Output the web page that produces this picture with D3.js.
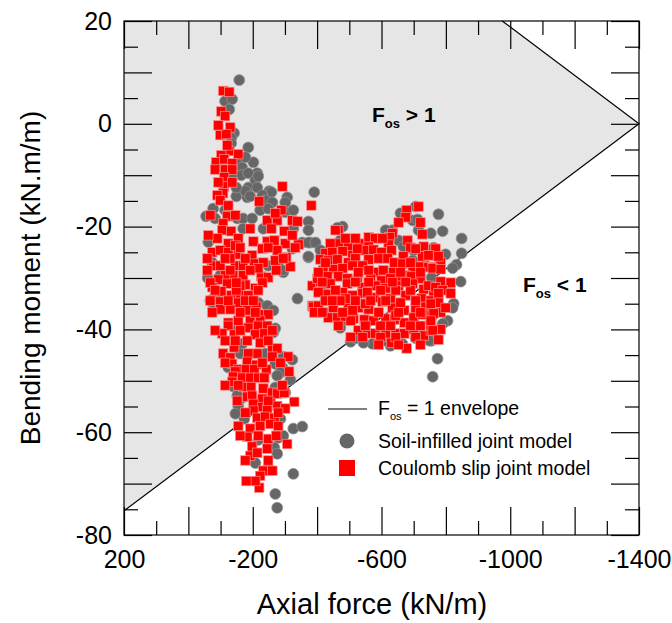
<!DOCTYPE html>
<html>
<head>
<meta charset="utf-8">
<script src="https://cdn.jsdelivr.net/npm/d3@7"></script>
<style>
  body { margin: 0; background: #fff; }
  svg text { font-family: "Liberation Sans", Arial, sans-serif; fill: #000; }
</style>
</head>
<body>
<div id="chart"></div>
<script>
// axial force N (kN/m), bending moment M (kN.m/m)
const soilInfilled = [
  [-158, 8.5], [-114, 4.4], [-136, 4.8], [-127, 2.8], [-142, -1.8], [-133, -2.8], [-133, -3.8],
  [-186, -4.6], [-152, -7.5], [-202, -7.5], [-177, -6.5], [-167, -8.5], [-214, -9.6], [-164, -10.0],
  [-186, -9.6], [-208, -11.0], [-217, -10.2], [-136, -10.6], [-186, -12.4], [-214, -12.4], [-251, -13.1],
  [-258, -13.3], [-391, -13.3], [-149, -14.1], [-183, -14.3], [-307, -14.3], [-177, -13.1], [-230, -13.9],
  [-149, -12.4], [-192, -14.1], [-239, -14.9],
  [-261, -15.3], [-301, -15.3], [-77, -16.5], [-83, -18.4], [-114, -16.8], [-152, -18.4], [-170, -18.4],
  [-198, -18.4], [-301, -17.2], [-326, -16.8], [-373, -19.0], [-223, -16.8], [-248, -16.5], [-170, -20.4],
  [-326, -20.4], [-373, -20.7], [-233, -20.4], [-354, -23.1], [-379, -23.1], [-323, -24.3], [-373, -26.0],
  [-74, -27.0], [-248, -27.6], [-279, -27.6], [-295, -28.9], [-292, -28.5], [-99, -29.5], [-83, -33.6],
  [-339, -34.0], [-217, -34.8], [-245, -35.4], [-264, -36.3], [-77, -35.0], [-68, -34.4], [-80, -36.3],
  [-373, -23.1], [-395, -23.1], [-373, -25.8], [-410, -24.6], [-55, -18.0], [-62, -23.0], [-60, -30.0],
  [-155, -39.7], [-270, -39.8], [-264, -40.6], [-167, -42.8], [-239, -44.7], [-295, -45.3], [-323, -45.9],
  [-161, -44.7], [-270, -46.7], [-292, -47.4], [-286, -48.4], [-276, -49.0], [-317, -49.8], [-146, -51.3],
  [-270, -51.3], [-301, -52.3], [-167, -53.3], [-155, -54.9], [-146, -56.4], [-174, -57.4], [-286, -57.4],
  [-326, -59.3], [-354, -58.9], [-217, -61.5], [-279, -61.1], [-295, -60.7], [-267, -63.0], [-276, -64.2],
  [-248, -66.9], [-326, -68.1], [-270, -72.0], [-276, -74.7], [-208, -66.0], [-124, -47.4], [-136, -51.0],
  [-152, -52.9],
  [-479, -20.0], [-463, -20.2], [-706, -16.1], [-659, -17.4], [-697, -18.8], [-712, -18.6], [-634, -20.7],
  [-715, -20.7], [-753, -21.3], [-613, -20.7], [-653, -22.7], [-668, -23.9], [-700, -24.6], [-762, -24.1],
  [-737, -27.6], [-697, -26.6], [-410, -31.5], [-426, -33.0], [-479, -38.3], [-753, -38.7], [-572, -42.8],
  [-544, -42.6], [-504, -42.4], [-665, -42.8], [-756, -42.2], [-472, -22.7],
  [-777, -17.6], [-790, -20.9], [-849, -22.3], [-849, -25.2], [-799, -25.4], [-833, -27.4], [-821, -28.1],
  [-846, -30.7], [-756, -29.9], [-809, -32.0], [-824, -35.0], [-821, -35.8], [-805, -38.3], [-790, -38.9],
  [-749, -42.2], [-774, -45.7], [-759, -49.2], [-628, -43.2], [-426, -34.4], [-441, -36.7], [-472, -39.7],
  [-519, -41.7], [-613, -42.2], [-706, -41.7]
];

const coulombSlip = [
  [-108, 6.4], [-127, 6.2], [-102, 2.4], [-114, 1.5], [-130, -0.7], [-99, -2.2], [-118, -2.0],
  [-127, -5.3], [-155, -5.9], [-102, -6.1], [-86, -7.5], [-111, -6.9], [-136, -7.7], [-83, -8.9],
  [-114, -8.9], [-136, -8.9], [-111, -10.4], [-111, -12.2], [-292, -12.2], [-108, -13.5], [-90, -13.9],
  [-93, -0.3], [-121, -4.2], [-136, -11.4], [-93, -11.4],
  [-99, -14.9], [-124, -15.9], [-220, -15.1], [-382, -15.9], [-121, -18.0], [-108, -19.4], [-245, -18.8],
  [-276, -18.8], [-289, -16.8], [-270, -17.4], [-323, -18.8], [-339, -19.0], [-192, -20.4], [-258, -20.4],
  [-298, -20.9], [-105, -20.7], [-133, -20.9], [-90, -22.3], [-124, -23.3], [-155, -22.3], [-202, -22.9],
  [-245, -22.9], [-267, -22.7], [-301, -23.3], [-342, -23.5], [-74, -25.0], [-99, -24.6], [-124, -25.0],
  [-155, -25.4], [-198, -25.6], [-230, -24.3], [-276, -24.6], [-304, -26.0], [-77, -27.6], [-99, -27.6],
  [-146, -27.6], [-170, -27.6], [-205, -27.2], [-233, -27.0], [-270, -26.6], [-317, -27.8], [-139, -29.5],
  [-170, -29.5], [-226, -29.7], [-248, -29.9], [-114, -29.5], [-93, -30.3], [-121, -31.1], [-177, -31.3],
  [-208, -32.0], [-74, -31.8], [-102, -32.6], [-385, -31.5], [-410, -30.7], [-133, -33.4], [-161, -33.2],
  [-186, -33.4], [-99, -34.6], [-155, -34.8], [-99, -36.1], [-130, -36.1], [-183, -36.3], [-211, -35.6],
  [-230, -37.1], [-248, -37.1], [-124, -38.7], [-155, -38.3], [-192, -38.3], [-223, -38.3], [-385, -35.4],
  [-395, -36.7], [-146, -23.7], [-177, -26.2], [-217, -28.1], [-192, -28.5], [-130, -26.2], [-161, -31.5],
  [-149, -32.4], [-177, -34.4],
  [-68, -17.8], [-146, -17.8], [-62, -21.7], [-323, -21.7], [-161, -24.1], [-248, -24.1], [-332, -24.1],
  [-59, -26.2], [-114, -26.2], [-295, -26.2], [-59, -28.5], [-130, -28.5], [-273, -28.5], [-68, -30.9],
  [-149, -30.9], [-230, -30.9], [-83, -32.4], [-217, -32.4], [-68, -34.4], [-124, -34.4], [-202, -34.4],
  [-74, -36.7], [-161, -36.7], [-208, -36.7],
  [-124, -39.3], [-186, -39.7], [-217, -39.3], [-245, -39.3], [-105, -40.8], [-142, -41.0], [-208, -41.0],
  [-236, -40.8], [-183, -42.2], [-223, -42.6], [-142, -43.5], [-108, -44.7], [-261, -43.7], [-276, -43.7],
  [-214, -44.7], [-261, -45.3], [-310, -45.3], [-130, -45.5], [-186, -44.7], [-183, -46.3], [-211, -46.9],
  [-136, -46.7], [-155, -47.8], [-146, -48.2], [-180, -47.8], [-205, -47.8], [-242, -47.8], [-313, -48.2],
  [-139, -49.2], [-167, -49.4], [-192, -49.4], [-217, -49.4], [-236, -49.4], [-136, -50.2], [-170, -51.2],
  [-195, -51.2], [-233, -51.5], [-261, -52.3], [-276, -52.5], [-298, -52.3], [-183, -53.1], [-230, -53.5],
  [-198, -52.9], [-255, -54.3], [-276, -54.9], [-202, -54.5], [-329, -54.1], [-301, -55.4], [-230, -55.1],
  [-202, -55.8], [-245, -55.6], [-214, -57.2], [-239, -57.0], [-267, -57.2], [-155, -58.8], [-192, -59.3],
  [-223, -58.8], [-255, -58.4], [-279, -58.8], [-183, -60.9], [-248, -61.3], [-307, -62.3], [-198, -62.8],
  [-245, -63.2], [-192, -64.6], [-233, -67.5], [-261, -67.5], [-223, -68.5], [-220, -70.8], [-214, -64.0],
  [-83, -40.2], [-161, -40.2], [-261, -40.2], [-114, -42.2], [-146, -42.2], [-248, -42.2], [-114, -46.5],
  [-230, -46.5], [-286, -46.5], [-114, -50.9], [-155, -50.9], [-292, -50.9], [-152, -53.9], [-248, -53.9],
  [-177, -56.2], [-279, -56.2], [-161, -60.7], [-217, -60.7], [-273, -60.7], [-177, -65.5], [-248, -65.5],
  [-208, -69.5], [-180, -69.5],
  [-715, -16.1], [-678, -16.8], [-675, -18.2], [-653, -19.2], [-721, -19.2], [-634, -21.3], [-727, -21.5],
  [-466, -20.7], [-457, -20.7], [-469, -23.3], [-441, -23.3], [-497, -23.9], [-531, -23.3], [-560, -22.1],
  [-581, -22.3], [-625, -22.1], [-622, -23.5], [-560, -23.9], [-681, -22.7], [-690, -24.1], [-731, -23.9],
  [-426, -25.2], [-447, -25.0], [-479, -24.8], [-510, -25.6], [-547, -24.6], [-575, -24.5], [-600, -25.0],
  [-631, -24.6], [-668, -25.8], [-727, -25.8], [-749, -25.6], [-410, -26.4], [-435, -26.6], [-463, -26.4],
  [-497, -27.0], [-519, -26.2], [-560, -26.4], [-591, -26.2], [-619, -26.2], [-640, -27.0], [-665, -27.2],
  [-697, -28.1], [-721, -27.8], [-419, -28.5], [-450, -28.3], [-479, -28.1], [-510, -27.6], [-541, -27.6],
  [-581, -28.9], [-606, -28.5], [-637, -28.9], [-675, -29.5], [-746, -27.9], [-762, -27.9], [-401, -30.1],
  [-432, -29.7], [-466, -29.7], [-494, -30.1], [-525, -30.3], [-566, -30.1], [-600, -30.5], [-628, -30.1],
  [-659, -30.5], [-693, -29.7], [-721, -30.1], [-746, -31.7], [-441, -31.1], [-494, -31.1], [-541, -31.8],
  [-581, -31.5], [-613, -32.0], [-653, -31.5], [-697, -31.1], [-731, -32.2], [-429, -33.2], [-479, -32.8],
  [-510, -33.4], [-541, -33.0], [-578, -33.8], [-628, -34.0], [-675, -33.4], [-724, -34.0], [-762, -33.4],
  [-450, -35.8], [-388, -35.6], [-404, -35.4], [-391, -36.7], [-497, -35.6], [-528, -35.8], [-560, -36.1],
  [-603, -34.6], [-634, -35.8], [-671, -36.3], [-706, -35.9], [-737, -35.6], [-435, -37.7], [-463, -37.7],
  [-488, -37.5], [-513, -37.9], [-547, -38.1], [-575, -38.3], [-613, -37.9], [-640, -38.1], [-671, -38.7],
  [-700, -37.7], [-727, -37.1], [-756, -37.3], [-504, -38.3], [-528, -40.2], [-556, -40.8], [-581, -40.8],
  [-613, -40.8], [-644, -40.8], [-671, -40.8], [-700, -40.0], [-731, -41.2], [-753, -40.2], [-631, -42.6],
  [-678, -43.7], [-519, -34.4], [-550, -35.0], [-488, -34.0], [-644, -32.4], [-690, -32.4], [-659, -34.8],
  [-706, -34.4], [-528, -28.9], [-560, -28.5], [-644, -37.3], [-597, -39.3], [-550, -39.3], [-472, -34.4],
  [-457, -32.4], [-597, -32.4], [-510, -36.3], [-628, -39.3], [-721, -39.3],
  [-488, -22.3], [-519, -22.3], [-603, -22.3], [-525, -24.3], [-706, -24.3], [-768, -24.3], [-426, -27.0],
  [-690, -27.0], [-784, -27.0], [-404, -28.9], [-659, -28.9], [-721, -28.9], [-519, -30.8], [-560, -30.8],
  [-634, -30.8], [-675, -30.8], [-416, -30.8], [-404, -32.8], [-556, -32.8], [-426, -34.4], [-447, -34.4],
  [-566, -34.4], [-613, -34.4], [-753, -34.4], [-416, -36.7], [-479, -36.7], [-591, -36.7], [-653, -36.7],
  [-721, -36.7], [-784, -36.7], [-466, -39.3], [-690, -39.3], [-753, -39.3], [-504, -41.5], [-541, -41.5],
  [-597, -41.5], [-644, -41.5], [-706, -41.5], [-591, -43.0], [-653, -43.0], [-721, -43.0],
  [-777, -25.8], [-746, -25.6], [-759, -28.1], [-784, -28.3], [-815, -30.9], [-784, -30.7], [-746, -31.5],
  [-768, -31.8], [-790, -32.4], [-815, -33.0], [-777, -33.0], [-777, -34.8], [-799, -35.8], [-753, -35.0],
  [-762, -36.9], [-753, -38.3], [-784, -40.0], [-759, -40.2], [-777, -42.0]
];

// Fos = 1 envelope: lower branch, apex, upper branch
const envelope = [[200, -75.3], [-1400, 0], [-975, 20]];

const xTickLabels = [200, -200, -600, -1000, -1400];
const yTickLabels = [20, 0, -20, -40, -60, -80];

const margin = { top: 21, right: 33, bottom: 88, left: 124 },
      width = 672 - margin.left - margin.right,
      height = 623 - margin.top - margin.bottom;

const svg = d3.select("#chart")
  .append("svg")
  .attr("width", 672)
  .attr("height", 623);

const g = svg.append("g")
  .attr("transform", `translate(${margin.left},${margin.top})`);

// reversed x axis: compression to the right
const x = d3.scaleLinear().domain([200, -1400]).range([0, width]);
const y = d3.scaleLinear().domain([-80, 20]).range([height, 0]);
const line = d3.line().x(d => x(d[0])).y(d => y(d[1]));

// shaded safe region (Fos > 1): top-left corner plus the envelope
g.append("path")
  .attr("d", line([[200, 20], ...envelope.slice().reverse()]) + "Z")
  .attr("fill", "#e6e6e6");

// envelope line
g.append("path")
  .attr("d", line(envelope))
  .attr("fill", "none")
  .attr("stroke", "#000")
  .attr("stroke-width", 1.2);

// ticks: long every 200 / 10, short in between
const xTicks = d3.range(200, -1401, -100);
const yTicks = d3.range(20, -81, -5);
const xLong = v => v % 200 === 0;
const yLong = v => v % 10 === 0;

function styleAxis(sel, isLong, longLen, shortLen, horiz) {
  sel.select(".domain").remove();
  sel.selectAll(".tick line")
    .attr(horiz ? "y2" : "x2", function(d) {
      const sign = +d3.select(this).attr(horiz ? "y2" : "x2") < 0 ? -1 : 1;
      return sign * (isLong(d) ? longLen : shortLen);
    })
    .attr("stroke", "#000")
    .attr("stroke-width", 1.2);
}

const fmtX = d => xTickLabels.includes(d) ? String(d) : "";
const fmtY = d => yTickLabels.includes(d) ? String(d) : "";

g.append("g")
  .attr("transform", `translate(0,${height})`)
  .call(d3.axisBottom(x).tickValues(xTicks).tickSize(-28).tickPadding(15).tickFormat(fmtX))
  .call(s => styleAxis(s, xLong, 28, 14, true))
  .call(s => s.selectAll("text").style("font-size", "25px"));

g.append("g")
  .call(d3.axisTop(x).tickValues(xTicks).tickSize(-28).tickFormat(""))
  .call(s => styleAxis(s, xLong, 28, 14, true));

g.append("g")
  .call(d3.axisLeft(y).tickValues(yTicks).tickSize(-28).tickPadding(12).tickFormat(fmtY))
  .call(s => styleAxis(s, yLong, 28, 14, false))
  .call(s => s.selectAll("text").style("font-size", "25px"));

g.append("g")
  .attr("transform", `translate(${width},0)`)
  .call(d3.axisRight(y).tickValues(yTicks).tickSize(-28).tickFormat(""))
  .call(s => styleAxis(s, yLong, 28, 14, false));

// frame
g.append("rect")
  .attr("width", width)
  .attr("height", height)
  .attr("fill", "none")
  .attr("stroke", "#000")
  .attr("stroke-width", 1.2);

// points: soil-infilled first, Coulomb slip on top
g.selectAll(".soil")
  .data(soilInfilled)
  .enter()
  .append("circle")
  .attr("class", "soil")
  .attr("cx", d => x(d[0]))
  .attr("cy", d => y(d[1]))
  .attr("r", 5.5)
  .attr("fill", "#666")
  .attr("stroke", "#9a9a9a")
  .attr("stroke-width", 0.7);

const sq = 9.5;
g.selectAll(".coulomb")
  .data(coulombSlip)
  .enter()
  .append("rect")
  .attr("class", "coulomb")
  .attr("x", d => x(d[0]) - sq / 2)
  .attr("y", d => y(d[1]) - sq / 2)
  .attr("width", sq)
  .attr("height", sq)
  .attr("fill", "#ff0000")
  .attr("stroke", "#ff8f8f")
  .attr("stroke-width", 0.7);

// region labels
function fosLabel(px, py, rel) {
  const t = svg.append("text")
    .attr("x", px)
    .attr("y", py)
    .style("font-size", "21px")
    .style("font-weight", "bold");
  t.append("tspan").text("F");
  t.append("tspan").attr("dy", 6).style("font-size", "13px").text("os");
  t.append("tspan").attr("dy", -6).text(` ${rel} 1`);
}
fosLabel(372, 122, ">");
fosLabel(523, 292, "<");

// legend
const lg = svg.append("g");
lg.append("line")
  .attr("x1", 328).attr("x2", 367)
  .attr("y1", 409).attr("y2", 409)
  .attr("stroke", "#000").attr("stroke-width", 1.2);
const lt = lg.append("text").attr("x", 378).attr("y", 415).style("font-size", "19.5px");
lt.append("tspan").text("F");
lt.append("tspan").attr("dy", 5).style("font-size", "11px").text("os");
lt.append("tspan").attr("dy", -5).text(" = 1 envelope");

lg.append("circle").attr("cx", 347).attr("cy", 441).attr("r", 7.5).attr("fill", "#666");
lg.append("text").attr("x", 378).attr("y", 448).style("font-size", "19.5px").text("Soil-infilled joint model");

lg.append("rect").attr("x", 339).attr("y", 460).attr("width", 16).attr("height", 16).attr("fill", "#ff0000");
lg.append("text").attr("x", 378).attr("y", 475).style("font-size", "19.5px").text("Coulomb slip joint model");

// axis titles
svg.append("text")
  .attr("x", 372)
  .attr("y", 614)
  .attr("text-anchor", "middle")
  .style("font-size", "29px")
  .text("Axial force (kN/m)");

svg.append("text")
  .attr("transform", `translate(40,${margin.top + height / 2}) rotate(-90)`)
  .attr("text-anchor", "middle")
  .style("font-size", "28px")
  .text("Bending moment (kN.m/m)");
</script>
</body>
</html>
